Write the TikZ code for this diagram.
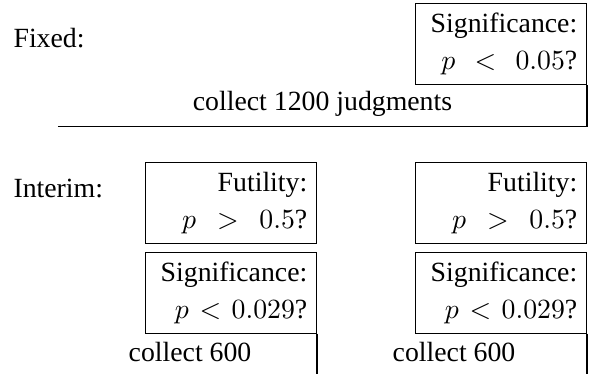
\documentclass[tikz,border=0pt]{standalone}
\usepackage[no-math]{fontspec}
\setmainfont{Liberation Serif}
\usepackage{amsmath}
\tikzset{
    rulebox/.style={draw, align=right, anchor=north east, text width=55pt,
        minimum height=29pt, inner sep=3.3pt, font=\fontsize{10}{13.3}\selectfont},
    phaselbl/.style={anchor=west, inner sep=0pt}
}

\begin{document}
\begin{tikzpicture}[x=0.36pt, y=-0.36pt]
                \useasboundingbox (0,0) rectangle (590,374);
                \node (fixlbl) at (13,38) [phaselbl] {Fixed:};
                \node (fixsig) at (587,3) [rulebox] {Significance:\\ $p \ < \ 0.05$?};
                \node (fixcol) at (322.5,104) {collect 1200 judgments};
                \coordinate (fixstart) at (58,126.5);
                \draw (fixstart) -| (fixsig.south east);
                \node (intlbl) at (13,188) [phaselbl] {Interim:};
                \node (fut1) at (317,162) [rulebox] {Futility:\\ $p \ > \ 0.5$?};
                \node (sig1) at (317,252) [rulebox] {Significance:\\ $p < 0.029$?};
                \node (col1) at (190,352) {collect 600};
                \coordinate (end1) at (317,374);
                \draw (sig1.south east) -- (end1);
                \node (fut2) at (587,162) [rulebox] {Futility:\\ $p \ > \ 0.5$?};
                \node (sig2) at (587,252) [rulebox] {Significance:\\ $p < 0.029$?};
                \node (col2) at (454,352) {collect 600};
                \coordinate (end2) at (587,374);
                \draw (sig2.south east) -- (end2);
            \end{tikzpicture}
\end{document}
